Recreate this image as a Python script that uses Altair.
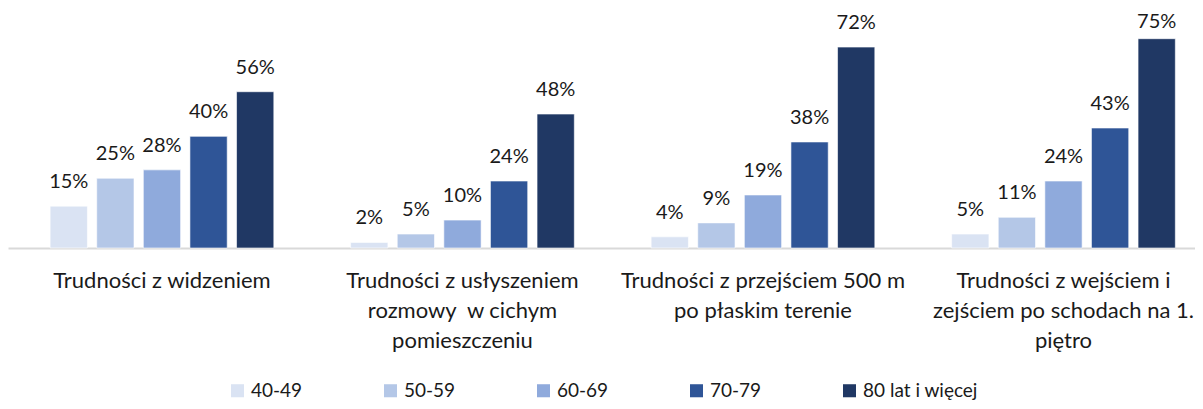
import altair as alt
import pandas as pd

categories = [
    "Trudności z widzeniem",
    "Trudności z usłyszeniem|rozmowy \u00a0w cichym|pomieszczeniu",
    "Trudności z przejściem 500 m|po płaskim terenie",
    "Trudności z wejściem i|zejściem po schodach na 1.|piętro",
]
groups = ["40-49", "50-59", "60-69", "70-79", "80 lat i więcej"]
colors = ["#DAE3F3", "#B4C7E7", "#8FAADC", "#2F5597", "#203864"]

v_40_49 = [15, 2, 4, 5]
v_50_59 = [25, 5, 9, 11]
v_60_69 = [28, 10, 19, 24]
v_70_79 = [40, 24, 38, 43]
v_80 = [56, 48, 72, 75]

series = [v_40_49, v_50_59, v_60_69, v_70_79, v_80]
rows = []
for g, vals in zip(groups, series):
    for c, v in zip(categories, vals):
        rows.append({"cat": c, "grp": g, "val": v / 100.0})
df = pd.DataFrame(rows)

FONT = "Lato"

x = alt.X(
    "cat:N",
    sort=categories,
    title=None,
    scale=alt.Scale(paddingInner=0.2246, paddingOuter=0.0873, align=0.714),
    axis=alt.Axis(
        labelAngle=0,
        labelExpr="split(datum.label, '|')",
        labelFontSize=22,
        labelFont=FONT,
        labelColor="#1a1a1a",
        labelLineHeight=30,
        labelPadding=32,
        labelBaseline="middle",
        labelLimit=400,
        ticks=False,
        domainColor="#D9D9D9",
        domainWidth=2,
    ),
)
xo = alt.XOffset(
    "grp:N", sort=groups, scale=alt.Scale(paddingInner=0.2, paddingOuter=0.1)
)
yscale = alt.Scale(domain=[0, 0.86])

bars = alt.Chart(df).mark_bar(stroke="white", strokeWidth=0.6).encode(
    x=x,
    xOffset=xo,
    y=alt.Y("val:Q", scale=yscale, axis=None),
    color=alt.Color(
        "grp:N",
        sort=groups,
        scale=alt.Scale(domain=groups, range=colors),
        legend=alt.Legend(
            title=None,
            orient="none",
            legendX=220,
            legendY=373,
            direction="horizontal",
            columns=5,
            gridAlign="all",
            columnPadding=15,
            symbolType="square",
            symbolSize=170,
            symbolStrokeWidth=0,
            labelFontSize=19,
            labelFont=FONT,
            labelColor="#1a1a1a",
            labelOffset=4,
        ),
    ),
)

# labels kept inside the chart area (as the original does for the tallest bar)
labels = (
    alt.Chart(df)
    .transform_calculate(ly="min(datum.val, 0.725)")
    .mark_text(baseline="middle", dy=-24, fontSize=20, font=FONT, color="#1a1a1a")
    .encode(
        x=x,
        xOffset=xo,
        y=alt.Y("ly:Q", scale=yscale, axis=None),
        text=alt.Text("val:Q", format=".0%"),
    )
)

chart = (
    alt.layer(bars, labels)
    .properties(
        width=1187,
        height=240,
        autosize=alt.AutoSizeParams(type="none"),
        padding={"left": 0, "top": 0, "right": 0, "bottom": 153},
    )
    .configure_view(stroke=None)
)

chart.save("out.html", embed_options={"renderer": "svg", "actions": False})
